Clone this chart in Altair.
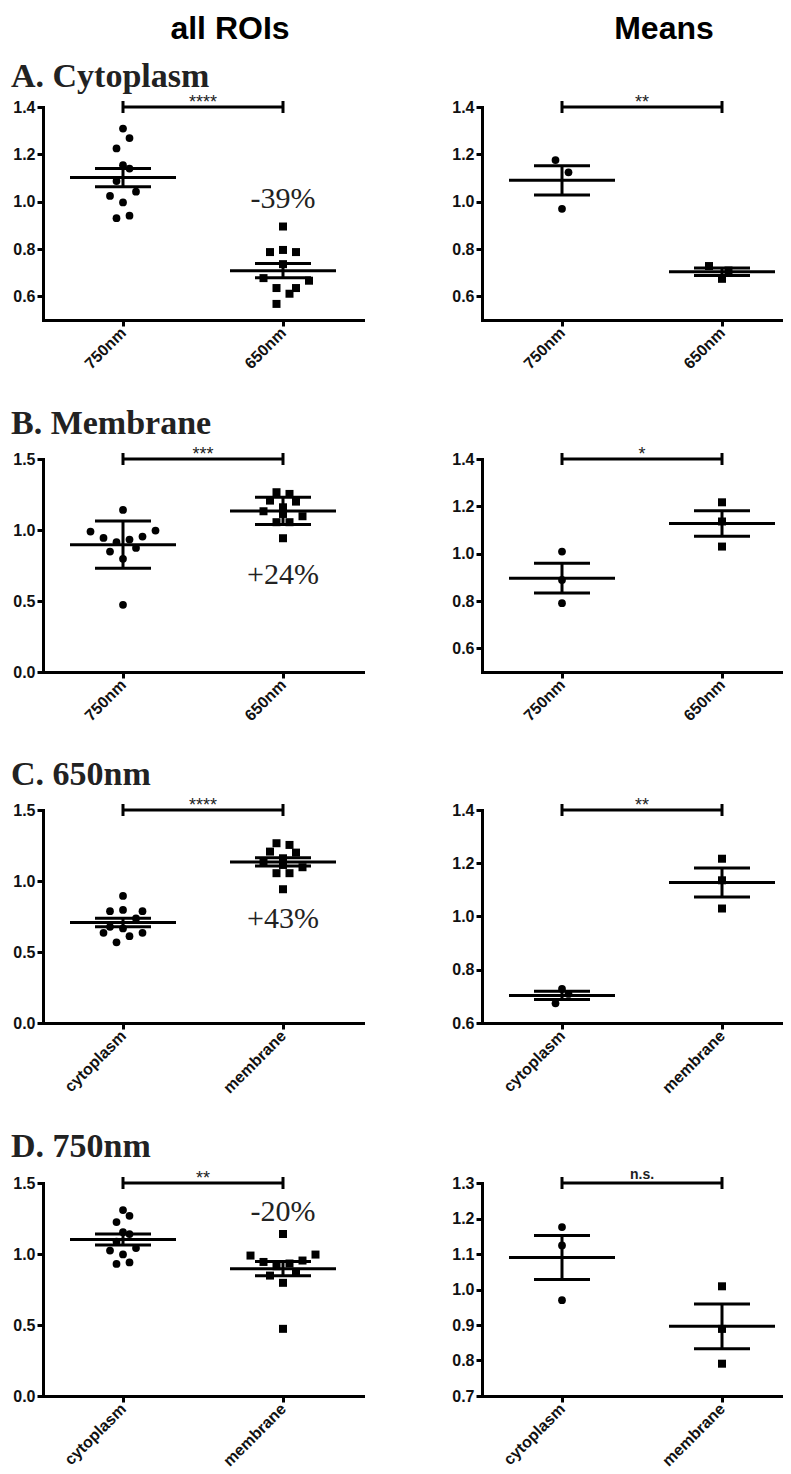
import altair as alt
import pandas as pd

# ---------------- data ----------------
# individual ROIs (normalised intensity)
cyto750 = [1.309, 1.269, 1.225, 1.154, 1.140, 1.087, 1.024, 0.997, 1.042, 0.930, 0.941]
cyto650 = [0.895, 0.787, 0.796, 0.787, 0.736, 0.677, 0.666, 0.635, 0.635, 0.611, 0.568]
memb750 = [1.141, 0.989, 0.996, 0.944, 0.914, 0.933, 0.954, 0.874, 0.848, 0.797, 0.473]
memb650 = [1.266, 1.254, 1.207, 1.200, 1.160, 1.132, 1.097, 1.055, 1.055, 0.942, 1.113]

# experiment means
cyto750_means = [1.176, 1.124, 0.970]
cyto650_means = [0.728, 0.709, 0.674]
memb750_means = [1.009, 0.889, 0.791]
memb650_means = [1.217, 1.136, 1.030]

# horizontal scatter slots of the points
jit_cyto750 = [0, 1, -1, 0, 1, -1, -2, 0, 2, -1, 1]
jit_cyto650_A = [0, -2, 0, 2, 0, -3, 4, -1, 2, 1, -1]
jit_cyto650_C = [0, -2, 0, 3, 2, -2, 0, -3, 3, 1, -1]
jit_memb750 = [0, -5, 5, -3, -1, 1, 3, 2, -2, 0, 0]
jit_memb650 = [-1, 1, -2, 2, 0, -3, 3, -1, 1, 0, 0]
jit_cyto750_mA = [-1, 1, 0]
jit_cyto650_mA = [-2, 1, 0]
jit_cyto650_mC = [0, 1, -1]
jit_zero3 = [0, 0, 0]

cats_wave = ["750nm", "650nm"]
cats_comp = ["cytoplasm", "membrane"]

headers = ["all ROIs", "Means"]
section_titles = ["A. Cytoplasm", "B. Membrane", "C. 650nm", "D. 750nm"]
stars = ["****", "**", "***", "*", "****", "**", "**", "n.s."]
pct_labels = ["-39%", "+24%", "+43%", "-20%"]
pct_y = [1.01, 0.683, 0.729, 1.296]

# ---------------- styling ----------------
SLOT = 6.5 / 80.0
LW, RW, H = 320, 301, 213
SANS = "Liberation Sans"
SERIF = "Liberation Serif"


def panel(v1, j1, v2, j2, err, ydom, yticks, cats, star, width,
          pct=None, pcty=None, title=None, title_y=None, header=None, header_x=None):
    xmax = width / 80.0
    rows = []
    for v, j in zip(v1, j1):
        rows.append({"cat": 1, "x": 1 + j * SLOT, "v": v, "g": "a"})
    for v, j in zip(v2, j2):
        rows.append({"cat": 3, "x": 3 + j * SLOT, "v": v, "g": "b"})
    df = pd.DataFrame(rows)

    xs = alt.Scale(domain=[0, xmax], nice=False, zero=False)
    ys = alt.Scale(domain=list(ydom), nice=False, zero=False)
    common = dict(grid=False, title=None, domainWidth=3, domainColor="black",
                  domainCap="square", tickWidth=3, tickColor="black", tickSize=6,
                  labelFont=SANS, labelFontWeight="bold", labelFontSize=16,
                  labelColor="#111")
    xaxis = alt.Axis(values=[1, 3],
                     labelExpr=f"datum.value == 1 ? '{cats[0]}' : '{cats[1]}'",
                     labelAngle=-45, labelAlign="right", labelBaseline="middle",
                     labelPadding=4, labelFlush=False, labelOverlap=False, **common)
    yaxis = alt.Axis(values=yticks, format=".1f", labelPadding=2,
                     labelFlush=False, labelOverlap=False, **common)

    def X(f):
        return alt.X(f, type="quantitative", scale=xs, axis=xaxis, title=None)

    def Y(f):
        return alt.Y(f, type="quantitative", scale=ys, axis=yaxis, title=None)

    base = alt.Chart(df)
    circles = base.transform_filter("datum.g == 'a'").mark_point(
        shape="circle", filled=True, size=60, opacity=1, color="black"
    ).encode(x=X("x"), y=Y("v"))
    squares = base.transform_filter("datum.g == 'b'").mark_point(
        shape="square", filled=True, size=64, opacity=1, color="black"
    ).encode(x=X("x"), y=Y("v"))

    agg = base.transform_aggregate(
        m="mean(v)", se="stderr(v)", sd="stdev(v)", groupby=["cat"]
    ).transform_calculate(
        lo=f"datum.m - datum.{err}", hi=f"datum.m + datum.{err}"
    )
    mean_t = agg.mark_tick(orient="horizontal", size=106, thickness=3,
                           color="black", opacity=1).encode(x=X("cat"), y=Y("m"))
    lo_t = agg.mark_tick(orient="horizontal", size=56, thickness=3,
                         color="black", opacity=1).encode(x=X("cat"), y=Y("lo"))
    hi_t = agg.mark_tick(orient="horizontal", size=56, thickness=3,
                         color="black", opacity=1).encode(x=X("cat"), y=Y("hi"))
    vr = agg.mark_rule(strokeWidth=3, color="black").encode(
        x=X("cat"), y=Y("lo"), y2="hi:Q")

    top = ydom[1]
    br = pd.DataFrame({"x1": [1], "x2": [3], "xm": [2], "y": [top], "t": [star]})
    caps = pd.DataFrame({"x": [1, 3], "y": [top, top]})
    bracket = alt.Chart(br).mark_rule(strokeWidth=3, color="black").encode(
        x=X("x1"), x2="x2:Q", y=Y("y"))
    capm = alt.Chart(caps).mark_tick(orient="vertical", size=12, thickness=3,
                                     color="black", opacity=1).encode(x=X("x"), y=Y("y"))
    is_ns = star == "n.s."
    startxt = alt.Chart(br).mark_text(
        font=SANS, fontSize=14 if is_ns else 18,
        fontWeight="bold" if is_ns else "normal", color="#222",
        baseline="alphabetic", dy=-4 if is_ns else 1).encode(
        x=X("xm"), y=Y("y"), text="t:N")

    layers = [circles, squares, mean_t, lo_t, hi_t, vr, bracket, capm, startxt]

    if pct is not None:
        pdf = pd.DataFrame({"x": [3], "y": [pcty], "t": [pct]})
        layers.append(alt.Chart(pdf).mark_text(
            font=SERIF, fontSize=30, color="#222", baseline="middle").encode(
            x=X("x"), y=Y("y"), text="t:N"))
    one = pd.DataFrame({"a": [0]})
    if title is not None:
        layers.append(alt.Chart(one).mark_text(
            font=SERIF, fontWeight="bold", fontSize=34, color="#222",
            align="left", baseline="alphabetic").encode(
            x=alt.value(-32), y=alt.value(title_y), text=alt.value(title)))
    if header is not None:
        layers.append(alt.Chart(one).mark_text(
            font=SANS, fontWeight="bold", fontSize=32, color="black",
            align="center", baseline="alphabetic").encode(
            x=alt.value(header_x), y=alt.value(-68), text=alt.value(header)))

    return alt.layer(*layers).properties(width=width, height=H)


def spacer(h):
    return alt.Chart(pd.DataFrame({"a": [0]})).mark_point(opacity=0).encode(
        x=alt.value(0), y=alt.value(0)).properties(width=1, height=h)


t02 = [0.6, 0.8, 1.0, 1.2, 1.4]
t05 = [0.0, 0.5, 1.0, 1.5]
t01 = [0.7, 0.8, 0.9, 1.0, 1.1, 1.2, 1.3]

A_l = panel(cyto750, jit_cyto750, cyto650, jit_cyto650_A, "se", (0.5, 1.4), t02, cats_wave,
            stars[0], LW, pct_labels[0], pct_y[0], section_titles[0], -20, headers[0], 187)
A_r = panel(cyto750_means, jit_cyto750_mA, cyto650_means, jit_cyto650_mA, "se", (0.5, 1.4), t02,
            cats_wave, stars[1], RW, header=headers[1], header_x=182)
B_l = panel(memb750, jit_memb750, memb650, jit_memb650, "sd", (0.0, 1.5), t05, cats_wave,
            stars[2], LW, pct_labels[1], pct_y[1], section_titles[1], -25)
B_r = panel(memb750_means, jit_zero3, memb650_means, jit_zero3, "se", (0.5, 1.4), t02,
            cats_wave, stars[3], RW)
C_l = panel(cyto650, jit_cyto650_C, memb650, jit_memb650, "se", (0.0, 1.5), t05, cats_comp,
            stars[4], LW, pct_labels[2], pct_y[2], section_titles[2], -25)
C_r = panel(cyto650_means, jit_cyto650_mC, memb650_means, jit_zero3, "se", (0.6, 1.4), t02,
            cats_comp, stars[5], RW)
D_l = panel(cyto750, jit_cyto750, memb750, jit_memb750, "se", (0.0, 1.5), t05, cats_comp,
            stars[6], LW, pct_labels[3], pct_y[3], section_titles[3], -26)
D_r = panel(cyto750_means, jit_zero3, memb750_means, jit_zero3, "se", (0.7, 1.3), t01,
            cats_comp, stars[7], RW)

cells = [A_l, A_r, spacer(119), spacer(119),
         B_l, B_r, spacer(118), spacer(118),
         C_l, C_r, spacer(140), spacer(140),
         D_l, D_r]

chart = alt.concat(*cells, columns=2, spacing={"row": 10, "column": 119}).properties(
    bounds="flush", align="each",
    padding={"left": 3, "top": 5, "right": 0, "bottom": 0},
).configure_view(stroke=None)

chart.save("out.html", embed_options={"renderer": "svg", "actions": False})
